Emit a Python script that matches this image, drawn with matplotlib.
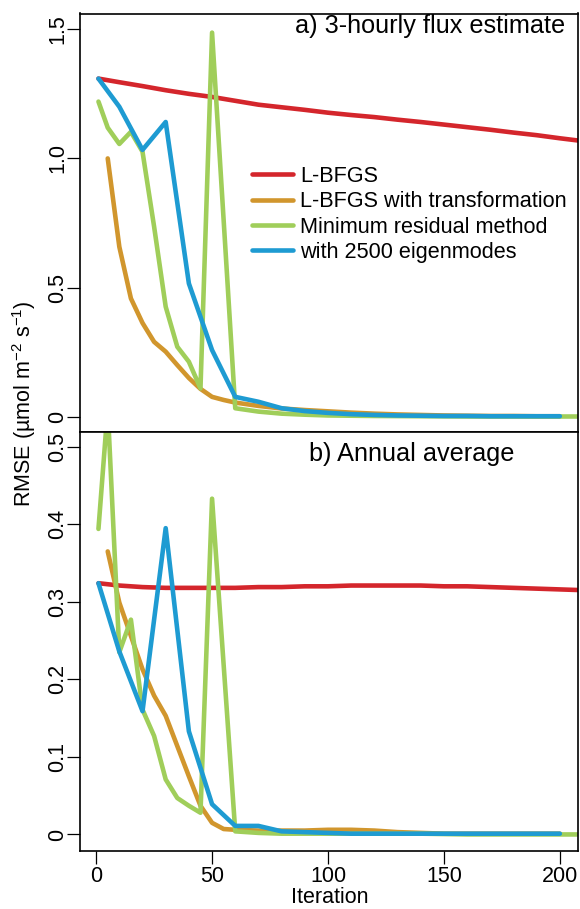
import numpy as np
import matplotlib
matplotlib.use('Agg')
import matplotlib.pyplot as plt

plt.rcParams['font.family'] = ['Liberation Sans', 'DejaVu Sans']
plt.rcParams['mathtext.fontset'] = 'custom'
plt.rcParams['mathtext.rm'] = 'Liberation Sans'
plt.rcParams['mathtext.it'] = 'Liberation Sans'
plt.rcParams['mathtext.default'] = 'regular'

# ---- data ----
labels = ['L-BFGS', 'L-BFGS with transformation',
          'Minimum residual method', 'with 2500 eigenmodes']
colors = ['#d4262c', '#d1962d', '#a0ce5a', '#1e9bd2']

x_lbfgs = [1, 10, 20, 30, 40, 50, 60, 70, 80, 90, 100, 110, 120, 130, 140,
           150, 160, 170, 180, 190, 200, 210]
a_lbfgs = [1.309, 1.295, 1.280, 1.264, 1.250, 1.238, 1.223, 1.208, 1.198,
           1.188, 1.177, 1.168, 1.160, 1.150, 1.141, 1.131, 1.121, 1.111,
           1.100, 1.090, 1.078, 1.067]
b_lbfgs = [0.324, 0.321, 0.319, 0.318, 0.318, 0.318, 0.318, 0.319, 0.319,
           0.320, 0.320, 0.321, 0.321, 0.321, 0.321, 0.320, 0.320, 0.319,
           0.318, 0.317, 0.316, 0.315]

x_trans = [5, 10, 15, 20, 25, 30, 35, 40, 45, 50, 55, 60, 70, 80, 90, 100,
           110, 120, 130, 140, 150, 160, 170, 180, 190, 200]
a_trans = [1.0, 0.658, 0.458, 0.363, 0.29, 0.252, 0.20, 0.15, 0.108, 0.077,
           0.065, 0.055, 0.042, 0.032, 0.026, 0.021, 0.016, 0.012, 0.009,
           0.007, 0.005, 0.004, 0.003, 0.003, 0.002, 0.002]
b_trans = [0.365, 0.299, 0.256, 0.213, 0.179, 0.153, 0.114, 0.075, 0.037,
           0.015, 0.007, 0.006, 0.005, 0.005, 0.005, 0.006, 0.006, 0.005,
           0.003, 0.002, 0.001, 0.001, 0.001, 0.001, 0.001, 0.001]

x_minres = [1, 5, 10, 15, 20, 25, 30, 35, 40, 45, 50, 60, 70, 80, 90, 100,
            120, 140, 160, 180, 200, 220]
a_minres = [1.22, 1.119, 1.056, 1.103, 1.026, 0.736, 0.426, 0.271, 0.213,
            0.11, 1.487, 0.033, 0.02, 0.012, 0.008, 0.005, 0.003, 0.002,
            0.001, 0.001, 0.001, 0.001]
b_minres = [0.394, 0.55, 0.235, 0.277, 0.161, 0.127, 0.071, 0.047, 0.037,
            0.028, 0.433, 0.004, 0.002, 0.001, 0.001, 0.001, 0.001, 0.001,
            0.0, 0.0, 0.0, 0.0]

x_eigen = [1, 10, 20, 30, 40, 50, 60, 70, 80, 90, 100, 110, 120, 130, 140,
           150, 160, 170, 180, 190, 200]
a_eigen = [1.309, 1.2, 1.033, 1.141, 0.516, 0.258, 0.077, 0.058, 0.033,
           0.022, 0.015, 0.01, 0.007, 0.005, 0.004, 0.003, 0.003, 0.002,
           0.002, 0.002, 0.002]
b_eigen = [0.324, 0.236, 0.159, 0.395, 0.133, 0.039, 0.011, 0.011, 0.004,
           0.003, 0.002, 0.001, 0.001, 0.001, 0.001, 0.001, 0.001, 0.001,
           0.001, 0.001, 0.001]

W, H = 580, 909
fig = plt.figure(figsize=(W / 100, H / 100), dpi=100)


def fx(px):
    return px / W


def fy(py):
    return 1 - py / H


left, right = 80, 578.3
ax_a = fig.add_axes([fx(left), fy(432), fx(right) - fx(left), fy(13.5) - fy(432)])
ax_b = fig.add_axes([fx(left), fy(850.5), fx(right) - fx(left), fy(432) - fy(850.5)])

series_a = [(x_lbfgs, a_lbfgs), (x_trans, a_trans), (x_minres, a_minres), (x_eigen, a_eigen)]
series_b = [(x_lbfgs, b_lbfgs), (x_trans, b_trans), (x_minres, b_minres), (x_eigen, b_eigen)]

for ax, series in [(ax_a, series_a), (ax_b, series_b)]:
    for (xs, ys), c, lab in zip(series, colors, labels):
        ax.plot(xs, ys, color=c, lw=3.3, label=lab,
                solid_capstyle='round', solid_joinstyle='round')
    ax.set_xlim(-6.96, 207.96)
    for s in ax.spines.values():
        s.set_linewidth(1.2)
    ax.tick_params(axis='y', direction='out', length=9.5, width=0.9,
                   pad=-1, labelsize=15.5, labelrotation=90)

ax_a.set_ylim(-0.059, 1.561)
ax_a.set_yticks([0, 0.5, 1.0, 1.5])
ax_a.set_yticklabels(['0', '0.5', '1.0', '1.5'], va='center')
ax_a.set_xticks([])

ax_b.set_ylim(-0.0207, 0.519)
ax_b.set_yticks([0, 0.1, 0.2, 0.3, 0.4, 0.5])
ax_b.set_yticklabels(['0', '0.1', '0.2', '0.3', '0.4', '0.5'], va='center')
ax_b.set_xticks([0, 50, 100, 150, 200])
ax_b.tick_params(axis='x', direction='out', length=9.5, width=0.9,
                 pad=2, labelsize=15.5)

# panel titles
fig.text(fx(295), fy(33), 'a) 3-hourly flux estimate', fontsize=18.2,
         ha='left', va='baseline')
fig.text(fx(309), fy(460.7), 'b) Annual average', fontsize=18.2,
         ha='left', va='baseline')

# axis labels
fig.text(fx(24), fy(404), 'RMSE (µmol m$^{-2}$ s$^{-1}$)', fontsize=15.5,
         rotation=90, ha='center', va='center')
fig.text(fx(330), fy(903), 'Iteration', fontsize=15.5,
         ha='center', va='baseline')

leg = ax_a.legend(loc='upper left', bbox_to_anchor=(fx(251.7), fy(166)),
                  bbox_transform=fig.transFigure, frameon=False,
                  fontsize=15.6, handlelength=1.92, handletextpad=0.31,
                  labelspacing=0.2, borderpad=0, borderaxespad=0)
for ln in leg.get_lines():
    ln.set_linewidth(3.3)

fig.savefig('out.png', dpi=100)
